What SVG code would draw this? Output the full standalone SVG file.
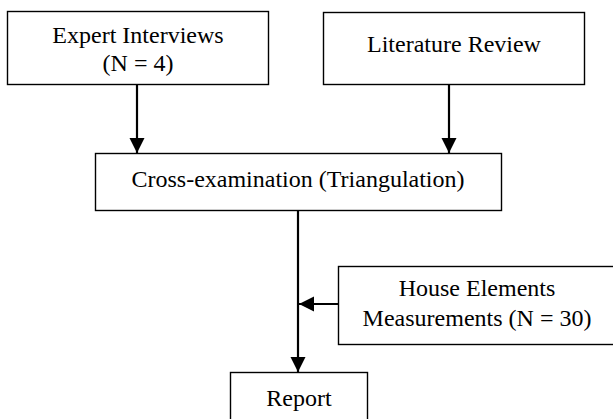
<svg xmlns="http://www.w3.org/2000/svg" width="613" height="419" viewBox="0 0 613 419">
<style>
.box{fill:#fff;stroke:#000;stroke-width:1.4}
.t{font-family:"Liberation Serif","Times New Roman",serif;font-size:24px;fill:#000;text-anchor:middle}
.c{stroke:#000;stroke-width:2.2;fill:none}
</style>
<defs>
<marker id="ah" viewBox="0 0 10 10" refX="10" refY="5" markerWidth="7" markerHeight="7" markerUnits="strokeWidth" orient="auto">
<path d="M0,0 L10,5 L0,10 z" fill="#000"/>
</marker>
</defs>
<rect width="613" height="419" fill="#fff"/>
<g id="expert">
<rect class="box" x="7.5" y="11.5" width="261" height="73"/>
<text class="t" x="138" y="43">Expert Interviews</text>
<text class="t" x="138" y="71">(N = 4)</text>
</g>
<g id="literature">
<rect class="box" x="323.5" y="12.5" width="261" height="72"/>
<text class="t" x="454" y="52">Literature Review</text>
</g>
<g id="cross">
<rect class="box" x="95.5" y="153.5" width="406" height="57"/>
<text class="t" x="298" y="187">Cross-examination (Triangulation)</text>
</g>
<g id="house">
<rect class="box" x="338.5" y="266.5" width="280" height="78"/>
<text class="t" x="477" y="296">House Elements</text>
<text class="t" x="477" y="326">Measurements (N = 30)</text>
</g>
<g id="report">
<rect class="box" x="230.5" y="372.5" width="137" height="60"/>
<text class="t" x="299" y="406">Report</text>
</g>
<g id="connectors">
<line class="c" x1="137" y1="85" x2="137" y2="153" marker-end="url(#ah)"/>
<line class="c" x1="449" y1="85" x2="449" y2="153" marker-end="url(#ah)"/>
<line class="c" x1="298" y1="211" x2="298" y2="372" marker-end="url(#ah)"/>
<line class="c" x1="338" y1="304" x2="299" y2="304" marker-end="url(#ah)"/>
</g>
</svg>
